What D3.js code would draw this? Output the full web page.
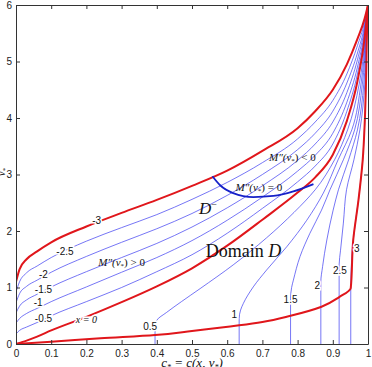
<!DOCTYPE html>
<html>
<head>
<meta charset="utf-8">
<script src="https://cdn.jsdelivr.net/npm/d3@7"></script>
<style>
body { margin: 0; background: #fff; }
svg { display: block; }
.tick text { font-family: "Liberation Sans", Arial, sans-serif; font-size: 10px; fill: #222; }
.clab { font-family: "Liberation Sans", Arial, sans-serif; font-size: 10px; fill: #111;
  stroke: #fff; stroke-width: 3px; paint-order: stroke; }
.math { font-family: "Liberation Serif", "DejaVu Serif", serif; fill: #111; }
</style>
</head>
<body>
<svg width="372" height="367"></svg>
<script>
// left family: levels -3 .. 0 share one c grid
const cGrid = [0, 0.01, 0.03, 0.06, 0.1, 0.2, 0.3, 0.4, 0.5, 0.6, 0.7, 0.8, 0.85, 0.9, 0.94, 0.97, 0.99, 1];
const vMinus3  = [1.10, 1.32, 1.50, 1.64, 1.80, 2.08, 2.32, 2.55, 2.80, 3.07, 3.42, 3.82, 4.12, 4.50, 4.95, 5.40, 5.75, 6];
const vMinus25 = [0.92, 1.10, 1.26, 1.38, 1.53, 1.82, 2.06, 2.29, 2.56, 2.86, 3.21, 3.63, 3.93, 4.31, 4.78, 5.28, 5.69, 6];
const vMinus2  = [0.73, 0.89, 1.02, 1.13, 1.27, 1.55, 1.80, 2.04, 2.31, 2.63, 3.00, 3.44, 3.73, 4.12, 4.62, 5.15, 5.63, 6];
const vMinus15 = [0.55, 0.67, 0.78, 0.88, 1.01, 1.28, 1.53, 1.78, 2.07, 2.41, 2.80, 3.25, 3.54, 3.93, 4.45, 5.03, 5.58, 6];
const vMinus1  = [0.37, 0.45, 0.54, 0.63, 0.75, 1.01, 1.27, 1.53, 1.83, 2.19, 2.60, 3.06, 3.34, 3.73, 4.28, 4.90, 5.52, 6];
const vMinus05 = [0.18, 0.24, 0.30, 0.38, 0.50, 0.75, 1.00, 1.28, 1.58, 1.96, 2.40, 2.87, 3.15, 3.54, 4.12, 4.78, 5.46, 6];
const vZero    = [0, 0.02, 0.06, 0.13, 0.24, 0.48, 0.74, 1.02, 1.34, 1.74, 2.20, 2.68, 2.95, 3.35, 3.95, 4.65, 5.40, 6];

// right family: [c, v] points, vertical foot then bending up to (1, 6)
const curve05 = [[0.395,0],[0.395,0.3],[0.4,0.42],[0.428,0.56],[0.47,0.75],[0.523,0.98],[0.617,1.4],[0.712,1.88],[0.79,2.33],[0.85,2.73],[0.905,3.26],[0.942,3.79],[0.975,4.6],[0.992,5.4],[1,6]];
const curve1  = [[0.634,0],[0.634,0.45],[0.638,0.6],[0.646,0.72],[0.674,1.01],[0.712,1.31],[0.769,1.72],[0.826,2.19],[0.873,2.67],[0.915,3.26],[0.954,3.79],[0.98,4.6],[0.993,5.4],[1,6]];
const curve15 = [[0.78,0],[0.78,0.8],[0.783,1.0],[0.788,1.13],[0.807,1.55],[0.835,1.96],[0.868,2.37],[0.892,2.73],[0.93,3.26],[0.962,3.79],[0.984,4.6],[0.994,5.4],[1,6]];
const curve2  = [[0.866,0],[0.866,1.1],[0.871,1.37],[0.883,1.84],[0.901,2.37],[0.916,2.73],[0.945,3.26],[0.97,3.79],[0.988,4.6],[0.995,5.4],[1,6]];
const curve25 = [[0.918,0],[0.918,1.4],[0.922,1.66],[0.93,2.14],[0.939,2.73],[0.96,3.26],[0.977,3.79],[0.991,4.6],[0.996,5.4],[1,6]];
const curve3  = [[0.951,0],[0.951,0.99],[0.958,1.84],[0.973,2.55],[0.985,3.26],[0.991,3.96],[0.995,4.8],[0.997,5.5],[1,6]];

// lower boundary of domain D
const boundary = [[0,0],[0.1,0.04],[0.24,0.1],[0.395,0.16],[0.5,0.23],[0.634,0.33],[0.7,0.39],[0.78,0.5],[0.868,0.66],[0.918,0.83],[0.951,0.99],[0.958,1.84],[0.973,2.55],[0.985,3.26],[0.991,3.96],[0.995,4.8],[0.997,5.5],[1,6]];
// M''(v*) = 0
const inflection = [[0.558,2.97],[0.58,2.81],[0.617,2.67],[0.674,2.6],[0.731,2.62],[0.788,2.7],[0.845,2.83]];

const xTicks = [0, 0.1, 0.2, 0.3, 0.4, 0.5, 0.6, 0.7, 0.8, 0.9, 1];
const yTicks = [0, 1, 2, 3, 4, 5, 6];

// contour labels: text, c, v
const labelText = ["-3", "-2.5", "-2", "-1.5", "-1", "-0.5", "0.5", "1", "1.5", "2", "2.5", "3"];
const labelC = [0.229, 0.139, 0.078, 0.078, 0.063, 0.078, 0.381, 0.62, 0.78, 0.856, 0.92, 0.968];
const labelV = [2.18, 1.63, 1.23, 0.96, 0.74, 0.46, 0.31, 0.53, 0.78, 1.03, 1.3, 1.69];

const svg = d3.select('svg');
const M = {left: 16, top: 5, right: 4, bottom: 23};
const W = 372 - M.left - M.right;
const H = 367 - M.top - M.bottom;

const x = d3.scaleLinear().domain([0, 1]).range([0, W]);
const y = d3.scaleLinear().domain([0, 6]).range([H, 0]);

const g = svg.append('g').attr('transform', `translate(${M.left},${M.top})`);

g.append('clipPath').attr('id', 'clip')
.append('rect').attr('width', W).attr('height', H);

const plot = g.append('g').attr('clip-path', 'url(#clip)');

// c grows along the left family, v grows along the right family
const lineX = d3.line().x(d => x(d[0])).y(d => y(d[1])).curve(d3.curveMonotoneX);
const lineY = d3.line().x(d => x(d[0])).y(d => y(d[1])).curve(d3.curveMonotoneY);

const zipC = vs => cGrid.map((c, i) => [c, vs[i]]);

// thin blue level curves
plot.selectAll('.lvlL')
.data([vMinus25, vMinus2, vMinus15, vMinus1, vMinus05].map(zipC))
.enter()
.append('path')
.attr('d', lineX)
.attr('fill', 'none')
.attr('stroke', '#3b3bf0')
.attr('stroke-width', 0.7);

plot.selectAll('.lvlR')
.data([curve05, curve1, curve15, curve2, curve25, curve3])
.enter()
.append('path')
.attr('d', lineY)
.attr('fill', 'none')
.attr('stroke', '#3b3bf0')
.attr('stroke-width', 0.7);

// thick red curves
plot.selectAll('.redL')
.data([zipC(vMinus3), zipC(vZero)])
.enter()
.append('path')
.attr('d', lineX)
.attr('fill', 'none')
.attr('stroke', '#e0161b')
.attr('stroke-width', 2);

plot.append('path')
.datum(boundary)
.attr('d', lineY)
.attr('fill', 'none')
.attr('stroke', '#e0161b')
.attr('stroke-width', 2);

plot.append('path')
.datum(inflection)
.attr('d', lineX)
.attr('fill', 'none')
.attr('stroke', '#1520c8')
.attr('stroke-width', 1.8);

// axes with inward ticks, box style
g.append('g')
.attr('transform', `translate(0,${H})`)
.call(d3.axisBottom(x).tickValues(xTicks).tickFormat(d3.format('')).tickSizeInner(-4).tickSizeOuter(0).tickPadding(6));
g.append('g')
.call(d3.axisTop(x).tickValues(xTicks).tickFormat('').tickSizeInner(-4).tickSizeOuter(0));
g.append('g')
.call(d3.axisLeft(y).tickValues(yTicks).tickFormat(d3.format('d')).tickSizeInner(-4).tickSizeOuter(0).tickPadding(4));
g.append('g')
.attr('transform', `translate(${W},0)`)
.call(d3.axisRight(y).tickValues(yTicks).tickFormat('').tickSizeInner(-4).tickSizeOuter(0));

g.selectAll('.domain').attr('stroke', '#333');
g.selectAll('.tick line').attr('stroke', '#333');

// contour labels
g.selectAll('.clab')
.data(labelText)
.enter()
.append('text')
.attr('class', 'clab')
.attr('x', (d, i) => x(labelC[i]))
.attr('y', (d, i) => y(labelV[i]))
.attr('dy', '0.35em')
.attr('text-anchor', 'middle')
.text(d => d);

// annotations
const ann = g.append('g').attr('class', 'math');

ann.append('text').attr('x', x(0.2)).attr('y', y(0.37)).attr('font-size', 10)
.attr('font-style', 'italic').attr('text-anchor', 'middle')
.attr('stroke', '#fff').attr('stroke-width', 3).attr('paint-order', 'stroke')
.text('x = 0');

const mText = (cx, cy, rel) => {
  const t = ann.append('text').attr('x', x(cx)).attr('y', y(cy)).attr('font-size', 11)
  .attr('text-anchor', 'middle').attr('dy', '0.35em');
  t.append('tspan').attr('font-style', 'italic').text('M″(');
  t.append('tspan').attr('font-style', 'italic').text('v');
  t.append('tspan').attr('font-size', 7).attr('dy', 2).text('*');
  t.append('tspan').attr('dy', -2).text(') ' + rel);
};
mText(0.3, 1.45, '> 0');
mText(0.785, 3.3, '< 0');
mText(0.69, 2.77, '= 0');

const dm = ann.append('text').attr('x', x(0.545)).attr('y', y(2.4)).attr('font-size', 17)
.attr('text-anchor', 'middle').attr('dy', '0.35em');
dm.append('tspan').attr('font-style', 'italic').text('D');
dm.append('tspan').attr('font-size', 10).attr('dy', -6).text('−');

const dd = ann.append('text').attr('x', x(0.646)).attr('y', y(1.66)).attr('font-size', 18)
.attr('text-anchor', 'middle').attr('dy', '0.35em');
dd.append('tspan').text('Domain ');
dd.append('tspan').attr('font-style', 'italic').text('D');

// axis titles
const xl = svg.append('text').attr('class', 'math').attr('x', 192).attr('y', 367)
.attr('font-size', 13).attr('text-anchor', 'middle').attr('font-style', 'italic');
xl.append('tspan').text('c');
xl.append('tspan').attr('font-size', 8).attr('dy', 3).text('*');
xl.append('tspan').attr('dy', -3).text(' = c(x, v');
xl.append('tspan').attr('font-size', 8).attr('dy', 3).text('*');
xl.append('tspan').attr('dy', -3).text(')');

const yl = svg.append('text').attr('class', 'math')
.attr('transform', 'translate(5,172) rotate(-90)')
.attr('font-size', 10).attr('text-anchor', 'middle').attr('font-style', 'italic');
yl.append('tspan').text('v');
yl.append('tspan').attr('font-size', 7).attr('dy', 2).text('*');
</script>
</body>
</html>
